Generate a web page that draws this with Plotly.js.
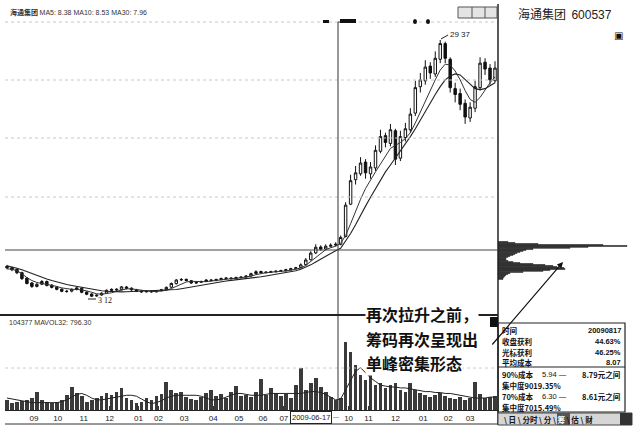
<!DOCTYPE html>
<html><head><meta charset="utf-8">
<script src="https://cdn.plot.ly/plotly-3.0.1.min.js"></script>
<style>html,body{margin:0;padding:0;background:#fff}#chart{width:640px;height:434px}</style>
</head><body><div id="chart"></div>
<script>
// ---- data (sampled roughly every 4 trading days) ----
const openP = [
6.25,6.10,5.95,5.60,5.05,4.55,4.20,4.42,4.70,4.32,
4.12,3.92,3.68,3.72,3.88,4.02,3.62,3.42,3.22,3.32,
3.52,3.78,3.92,3.86,4.14,4.02,3.86,3.72,3.64,3.71,
3.64,3.76,3.86,4.12,4.48,4.86,4.92,4.78,4.54,4.62,
4.70,4.86,4.80,4.90,5.00,5.06,5.00,5.10,5.16,5.26,
5.52,5.72,5.60,5.64,5.70,5.76,5.80,5.90,6.02,6.12,
6.42,6.92,7.62,8.22,8.02,8.30,8.42,8.50,9.30,12.6,
15.1,15.7,16.9,15.7,16.3,18.0,19.6,18.8,20.1,17.3,
19.4,20.2,21.9,24.6,25.2,26.7,25.9,27.4,29.0,27.4,
24.4,23.9,22.9,21.4,22.4,24.5,27.1,26.5,25.2];
const highP = [
6.40,6.20,6.00,5.70,5.15,4.65,4.55,4.85,4.80,4.45,
4.20,4.00,3.85,4.00,4.15,4.10,3.70,3.50,3.40,3.60,
3.90,4.00,4.00,4.25,4.25,4.10,3.95,3.80,3.78,3.80,
3.82,3.95,4.20,4.60,4.95,5.05,5.00,4.85,4.70,4.80,
4.95,4.95,5.00,5.10,5.15,5.15,5.20,5.25,5.35,5.60,
5.85,5.80,5.75,5.80,5.85,5.90,6.00,6.10,6.20,6.55,
7.10,7.80,8.50,8.40,8.50,8.60,8.70,9.40,12.8,15.6,
16.5,17.4,17.2,16.9,18.6,20.2,19.9,20.8,20.3,20.1,
20.9,22.4,25.2,26.0,27.3,27.1,28.2,29.37,29.2,27.6,
25.0,24.4,23.3,23.0,25.2,27.6,27.5,26.9,27.2];
const lowP = [
5.95,5.75,5.45,4.85,4.40,4.05,4.10,4.35,4.20,4.00,
3.80,3.60,3.55,3.60,3.80,3.50,3.30,3.12,3.15,3.25,
3.45,3.70,3.75,3.80,3.90,3.75,3.62,3.55,3.58,3.55,
3.58,3.70,3.80,4.05,4.40,4.75,4.70,4.45,4.45,4.55,
4.65,4.70,4.72,4.82,4.92,4.90,4.95,5.02,5.08,5.20,
5.45,5.50,5.52,5.58,5.62,5.68,5.72,5.82,5.92,6.05,
6.35,6.85,7.50,7.85,7.90,8.20,8.30,8.40,9.20,12.5,
14.6,15.5,15.2,15.2,16.0,17.8,18.4,18.5,16.6,17.0,
19.0,19.9,21.6,24.0,24.8,25.4,25.6,27.0,27.0,24.0,
23.0,22.2,20.8,21.0,22.0,24.2,25.8,24.8,25.0];
const closeP = [
6.10,5.90,5.60,5.00,4.50,4.20,4.40,4.70,4.30,4.10,
3.90,3.70,3.70,3.90,4.05,3.60,3.40,3.20,3.30,3.50,
3.80,3.90,3.85,4.15,4.00,3.85,3.70,3.65,3.70,3.65,
3.75,3.85,4.10,4.50,4.85,4.90,4.80,4.55,4.60,4.70,
4.85,4.80,4.90,5.00,5.05,5.00,5.10,5.15,5.25,5.50,
5.70,5.60,5.65,5.70,5.75,5.80,5.90,6.00,6.10,6.40,
6.90,7.60,8.20,8.00,8.30,8.40,8.50,9.20,12.5,15.0,
15.8,16.8,15.8,16.4,18.1,19.5,18.9,20.2,17.2,19.5,
20.3,21.8,24.5,25.3,26.6,26.0,27.5,29.0,27.5,24.5,
23.8,22.8,21.5,22.5,24.6,27.0,26.4,25.3,26.5];
const ma10 = [
6.00,5.95,5.80,5.50,5.10,4.80,4.60,4.50,4.45,4.35,
4.20,4.05,3.95,3.90,3.90,3.85,3.75,3.60,3.45,3.40,
3.45,3.55,3.70,3.85,3.95,3.95,3.88,3.80,3.72,3.68,
3.68,3.72,3.80,3.98,4.20,4.45,4.65,4.72,4.70,4.66,
4.68,4.75,4.82,4.88,4.95,5.00,5.04,5.08,5.14,5.25,
5.40,5.52,5.60,5.65,5.68,5.72,5.78,5.86,5.95,6.08,
6.35,6.75,7.20,7.60,7.95,8.15,8.30,8.60,9.40,10.6,
11.9,13.1,14.2,15.1,15.9,16.7,17.5,18.3,18.6,18.9,
19.3,19.9,20.9,22.0,23.2,24.3,25.3,26.3,26.9,26.8,
26.2,25.3,24.2,23.3,23.0,23.5,24.3,25.0,25.6];
const ma30 = [
6.30,6.20,6.05,5.90,5.70,5.50,5.30,5.10,4.95,4.80,
4.65,4.52,4.40,4.30,4.20,4.12,4.02,3.92,3.82,3.75,
3.70,3.66,3.64,3.64,3.66,3.68,3.70,3.72,3.74,3.76,
3.76,3.76,3.78,3.82,3.88,3.96,4.05,4.15,4.25,4.35,
4.45,4.55,4.62,4.70,4.76,4.82,4.87,4.92,4.97,5.03,
5.10,5.18,5.26,5.34,5.42,5.50,5.58,5.68,5.80,5.95,
6.15,6.40,6.70,7.00,7.30,7.58,7.85,8.10,8.80,9.60,
10.5,11.5,12.4,13.3,14.2,15.1,15.9,16.6,17.3,18.0,
18.7,19.5,20.3,21.2,22.0,22.9,23.8,24.6,25.3,25.7,
25.9,25.8,25.3,24.8,24.4,24.3,24.4,24.7,25.0];
const volume = [
11,8,9,10,11,13,20,11,9,8,
9,11,16,25,18,15,9,11,13,15,
18,16,20,24,13,11,8,9,13,11,
15,17,30,22,18,20,14,12,11,14,
18,22,15,17,13,20,26,15,16,14,
20,34,16,24,18,15,17,13,27,46,
22,29,35,25,20,14,11,13,74,63,
49,38,33,40,27,29,24,27,29,22,
20,29,22,18,16,14,16,18,15,13,
12,14,11,13,30,17,13,14,15];
const mavol = [
13,12,11,10,9,8,8,8,8,8,
8,9,11,14,17,18,16,13,11,11,
12,13,14,15,16,16,15,12,9,7,
8,10,13,15,16,16,16,16,16,15,
13,11,11,12,14,16,18,18,17,16,
16,16,17,18,18,18,18,18,18,18,
19,20,20,19,17,14,11,12,22,33,
42,46,40,35,31,27,26,25,25,24,
24,23,22,21,20,20,19,19,18,18,
17,16,15,14,13,13,13,14,14];
// chip distribution (price level -> relative amount)
const chipPrice = [8.74,8.64,8.53,8.43,8.33,8.23,8.13,8.02,7.92,7.82,7.72,7.61,7.51,7.41,7.31,7.21,7.10,7.00,6.90,6.80,6.69,6.59,6.49,6.39,6.29,6.18,6.08,5.98,5.88,5.78,5.67,5.57,5.47,5.37,5.27,5.16,5.06,4.96];
const chipAmt   = [10,17,40,105,129,90,72,35,28,25,22,19,17,15,12,10,8,8,8,10,15,22,35,47,55,59,66,67,52,45,25,12,10,8,7,6,5,5];
// month labels at the sample index where each month starts
const monthIdx = [5.4,10.2,15.4,20.6,26.4,30.4,35.6,41.4,46.6,51.4,55.6,68.6,72.6,78,83.6,88.6,93];
const monthLbl = ['09','10','11','12','01','02','03','04','05','06','07','10','11','12','01','02','03'];
const infoLbl = ['时间','收盘获利','光标获利','平均成本'];
const infoVal = ['20090817','44.63%','46.25%','8.07'];
const peakPrice = 29.37, lowPrice = 3.12;

const idx = closeP.map((_, i) => i);
const W = 640, H = 434;
const px = x => x / W, py = y => 1 - y / H;
const CJK = '"Noto Sans CJK SC", "Noto Sans", sans-serif';
const LAT = '"Liberation Sans", Arial, sans-serif';

const traces = [
  {type:'candlestick', x: idx, open: openP, high: highP, low: lowP, close: closeP,
   xaxis:'x', yaxis:'y', hoverinfo:'skip', whiskerwidth:0,
   increasing:{line:{color:'#111', width:1}, fillcolor:'#ffffff'},
   decreasing:{line:{color:'#111', width:1}, fillcolor:'#111111'}},
  {type:'scatter', mode:'lines', x: idx, y: ma10, xaxis:'x', yaxis:'y', line:{color:'#333', width:1}, hoverinfo:'skip'},
  {type:'scatter', mode:'lines', x: idx, y: ma30, xaxis:'x', yaxis:'y', line:{color:'#222', width:1.1}, hoverinfo:'skip'},
  {type:'bar', x: idx, y: volume, xaxis:'x', yaxis:'y2', width:0.75, marker:{color:'#3a3a3a', line:{width:0}}, hoverinfo:'skip'},
  {type:'scatter', mode:'lines', x: idx, y: mavol, xaxis:'x', yaxis:'y2', line:{color:'#222', width:1}, hoverinfo:'skip'},
  {type:'bar', orientation:'h', x: chipAmt, y: chipPrice, xaxis:'x3', yaxis:'y3', width:0.085, marker:{color:'#2a2a2a', line:{color:'#2a2a2a', width:0.6}}, hoverinfo:'skip'}
];

const gridY = [22, 80, 138, 197];
const shapes = [];
gridY.forEach(y => shapes.push({type:'line', xref:'paper', yref:'paper', x0:px(5), x1:px(498), y0:py(y), y1:py(y), line:{color:'#c8c8c8', width:1, dash:'dot'}}));
shapes.push({type:'line', xref:'paper', yref:'paper', x0:px(5), x1:px(498), y0:py(368), y1:py(368), line:{color:'#cccccc', width:1, dash:'dot'}});
shapes.push(
  {type:'line', xref:'paper', yref:'paper', x0:px(498), x1:px(498), y0:py(4), y1:py(425), line:{color:'#222', width:1.5}},
  {type:'line', xref:'paper', yref:'paper', x0:px(338), x1:px(338), y0:py(22), y1:py(410), line:{color:'#333', width:1}},
  {type:'line', xref:'paper', yref:'paper', x0:px(338), x1:px(345), y0:py(22), y1:py(22), line:{color:'#333', width:1}},
  {type:'line', xref:'paper', yref:'paper', x0:px(5), x1:px(498), y0:py(250), y1:py(250), line:{color:'#444', width:1}},
  {type:'line', xref:'paper', yref:'paper', x0:px(0), x1:px(498), y0:py(315), y1:py(315), line:{color:'#222', width:2}},
  {type:'line', xref:'paper', yref:'paper', x0:px(5), x1:px(498), y0:py(424), y1:py(424), line:{color:'#333', width:1}},
  {type:'rect', xref:'paper', yref:'paper', x0:px(490), x1:px(498), y0:py(327), y1:py(317), fillcolor:'#111', line:{width:0}},
  // top markers
  {type:'rect', xref:'paper', yref:'paper', x0:px(323), x1:px(329), y0:py(23), y1:py(20), fillcolor:'#111', line:{width:0}},
  {type:'rect', xref:'paper', yref:'paper', x0:px(340), x1:px(356), y0:py(23), y1:py(19), fillcolor:'#111', line:{width:0}},
  {type:'circle', xref:'paper', yref:'paper', x0:px(413), x1:px(417), y0:py(24), y1:py(19), fillcolor:'#111', line:{width:0}},
  {type:'circle', xref:'paper', yref:'paper', x0:px(426), x1:px(430), y0:py(24), y1:py(19), fillcolor:'#111', line:{width:0}},
  // button group
  {type:'rect', xref:'paper', yref:'paper', x0:px(458), x1:px(497), y0:py(18), y1:py(7), fillcolor:'#e4e4e4', line:{color:'#555', width:1}},
  {type:'line', xref:'paper', yref:'paper', x0:px(472), x1:px(472), y0:py(18), y1:py(7), line:{color:'#555', width:1}},
  {type:'line', xref:'paper', yref:'paper', x0:px(485), x1:px(485), y0:py(18), y1:py(7), line:{color:'#555', width:1}},
  // leaders for high / low labels
  {type:'line', xref:'paper', yref:'paper', x0:px(441), x1:px(448), y0:py(39), y1:py(35), line:{color:'#222', width:1}},
  {type:'line', xref:'paper', yref:'paper', x0:px(88), x1:px(96), y0:py(299), y1:py(299), line:{color:'#222', width:1}},
  // info table
  {type:'rect', xref:'paper', yref:'paper', x0:px(498), x1:px(625), y0:py(412), y1:py(323), line:{color:'#222', width:1.2}},
  {type:'line', xref:'paper', yref:'paper', x0:px(498), x1:px(625), y0:py(367), y1:py(367), line:{color:'#222', width:1}},
  {type:'rect', xref:'paper', yref:'paper', x0:px(498), x1:px(632), y0:py(425), y1:py(413), fillcolor:'#d6d6d6', line:{color:'#444', width:1}},
  {type:'rect', xref:'paper', yref:'paper', x0:px(557), x1:px(570), y0:py(425), y1:py(413), fillcolor:'#555', line:{width:0}},
  {type:'rect', xref:'paper', yref:'paper', x0:px(620), x1:px(632), y0:py(425), y1:py(413), fillcolor:'#333', line:{width:0}}
);

const ann = [];
const T = (x, y, text, size, opt={}) => ann.push(Object.assign({xref:'paper', yref:'paper', x:px(x), y:py(y), text, showarrow:false,
  xanchor:'left', yanchor:'middle', font:{family:CJK, size, color:'#111'}}, opt));
T(8, 12, '<b>海通集团</b> <span style="font-family:Liberation Sans">MA5: 8.38 MA10: 8.53 MA30: 7.96</span>', 7, {font:{family:CJK, size:7, color:'#333'}});
T(7, 322, '104377 MAVOL32: 796.30', 7, {font:{family:LAT, size:7, color:'#333'}});
T(516, 14, '海通集团  <span style="font-family:Liberation Sans">600537</span>', 12, {font:{family:CJK, size:12, color:'#222'}});
T(612, 35, '<b>▣</b>', 10, {font:{family:'DejaVu Sans', size:10, color:'#111'}});
T(448, 34, peakPrice.toFixed(2).replace('.', ' '), 8, {font:{family:LAT, size:8, color:'#222'}});
T(96, 300, lowPrice.toFixed(2).replace('.', ' '), 8, {font:{family:'Liberation Serif', size:8, color:'#222'}});
T(311, 417, '2009-06-17', 7.5, {xanchor:'center', font:{family:LAT, size:7.5, color:'#222'}, bgcolor:'#ffffff', bordercolor:'#222', borderwidth:1, borderpad:1});
T(331, 417, '—', 6, {font:{family:LAT, size:6, color:'#222'}});
// big annotation
const noteLines = ['再次拉升之前，','筹码再次呈现出','单峰密集形态'];
[314, 339, 363].forEach((y, k) => T(365, y, '<b>' + noteLines[k] + '</b>', 16, {font:{family:CJK, size:16, color:'#111'}, bgcolor:'#ffffff', borderpad:0}));
ann.push({xref:'paper', yref:'paper', x:px(563), y:py(262), ax:-72, ay:84, axref:'pixel', ayref:'pixel', text:'', showarrow:true,
  arrowhead:2, arrowsize:1, arrowwidth:1.2, arrowcolor:'#111'});
// info table
[330, 341, 352, 362].forEach((y, k) => {
  T(500, y, '<b>' + infoLbl[k] + '</b>', 7.5);
  T(623, y, '<b>' + infoVal[k] + '</b>', 7.5, {xanchor:'right', font:{family:LAT, size:7.5, color:'#111'}});
});
T(500, 374, '<b>90%成本</b>', 7.5); T(540, 374, '5.94 —', 7.5, {font:{family:LAT, size:7.5, color:'#111'}}); T(623, 374, '<b>8.79元之间</b>', 7.5, {xanchor:'right'});
T(500, 385, '<b>集中度9019.35%</b>', 7.5);
T(500, 396, '<b>70%成本</b>', 7.5); T(540, 396, '6.30 —', 7.5, {font:{family:LAT, size:7.5, color:'#111'}}); T(623, 396, '<b>8.61元之间</b>', 7.5, {xanchor:'right'});
T(500, 407, '<b>集中度7015.49%</b>', 7.5);
T(502, 419, '<b>\\ 日 \\ 分时 \\ 分 \\ <span style="color:#fff">筹</span> \\ 估 \\ 财</b>', 7.5);

const layout = {
  width: W, height: H, margin:{l:0, r:0, t:0, b:0}, showlegend:false,
  paper_bgcolor:'#ffffff', plot_bgcolor:'rgba(0,0,0,0)',
  xaxis:{domain:[px(5), px(498)], range:[-0.4, 98.6], anchor:'y2', tickmode:'array', tickvals: monthIdx, ticktext: monthLbl,
    ticks:'inside', ticklen:4, tickcolor:'#333', tickfont:{family:LAT, size:8, color:'#222'}, showgrid:false, zeroline:false,
    showline:true, linecolor:'#222', linewidth:1, rangeslider:{visible:false}, fixedrange:true},
  yaxis:{domain:[py(315), py(15)], range:[1.28, 31.92], anchor:'x', visible:false, showgrid:false, fixedrange:true},
  yaxis2:{domain:[py(410), py(318)], range:[0, 100], anchor:'x', visible:false, showgrid:false, fixedrange:true},
  xaxis3:{domain:[px(498), 1], range:[0, 142], anchor:'y3', visible:false, fixedrange:true},
  yaxis3:{domain:[py(315), py(15)], range:[1.28, 31.92], anchor:'x3', visible:false, fixedrange:true},
  bargap:0, shapes, annotations: ann
};
Plotly.newPlot('chart', traces, layout, {staticPlot:true, displayModeBar:false});
</script>
</body></html>
